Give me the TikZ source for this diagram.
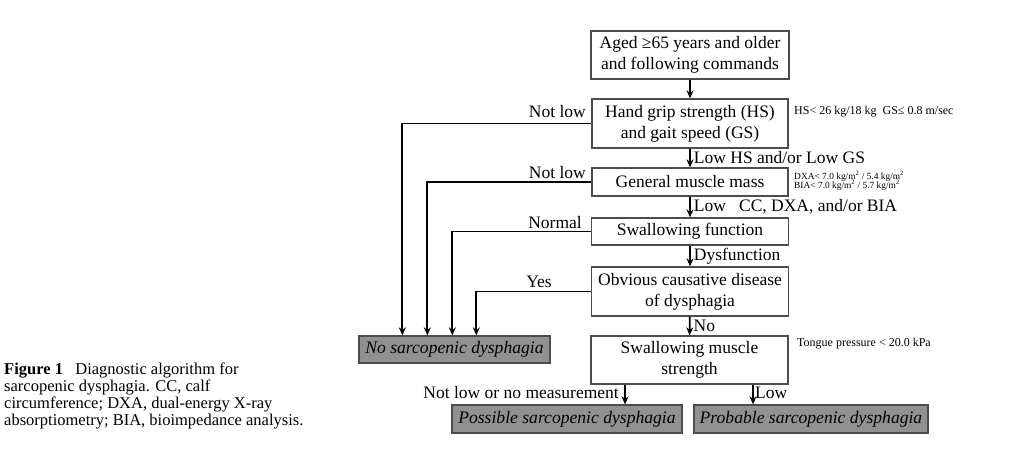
\documentclass[tikz,border=0pt]{standalone}
\usepackage{fontspec}
\setmainfont{Liberation Serif}
\usetikzlibrary{arrows.meta,calc}
\begin{document}
\begin{tikzpicture}[x=1pt,y=-1pt,
  box/.style={draw=black!70,line width=1.3pt,fill=white,align=center,inner sep=0pt,
    font=\fontsize{17.5}{21}\selectfont},
  outbox/.style={draw=black!70,line width=1.3pt,fill=black!43,inner sep=0pt,
    font=\fontsize{17.6}{20}\selectfont\itshape},
  arr/.style={line width=1.8pt,-{Stealth[length=8pt,width=7pt]}},
  lbl/.style={inner sep=0pt,font=\fontsize{17.5}{20}\selectfont},
  note/.style={inner sep=0pt,font=\fontsize{12}{13}\selectfont,anchor=west},
  tiny/.style={inner sep=0pt,font=\fontsize{9.4}{10}\selectfont,anchor=west}]
\useasboundingbox (0,0) rectangle (1024,455);
\fill[white] (0,0) rectangle (1024,455);

% boxes
\node[box,minimum width=198pt,minimum height=48pt] (top) at (690,55) {Aged ≥65 years and older\\and following commands};
\node[box,minimum width=196pt,minimum height=49pt] (hs) at (690,123.5) {Hand grip strength (HS)\\and gait speed (GS)};
\node[box,minimum width=196pt,minimum height=28pt] (gmm) at (690,182) {General muscle mass};
\node[box,minimum width=197pt,minimum height=27pt] (sf) at (690,231.5) {Swallowing function};
\node[box,minimum width=197pt,minimum height=49pt] (ob) at (690,291.5) {Obvious causative disease\\of dysphagia};
\node[box,minimum width=197pt,minimum height=48pt] (sms) at (689.5,360) {Swallowing muscle\\strength};
\node[outbox,minimum width=191pt,minimum height=27pt] (nosd) at (454.5,349.5) {No sarcopenic dysphagia};
\node[outbox,minimum width=230pt,minimum height=28pt] (pos) at (567,419) {Possible sarcopenic dysphagia};
\node[outbox,minimum width=234pt,minimum height=28pt] (prob) at (811,419) {Probable sarcopenic dysphagia};

% main vertical flow
\draw[arr] (top) -- (hs);
\draw[arr] (hs) -- node[lbl,anchor=west,xshift=3pt]{Low HS and/or Low GS} (gmm);
\draw[arr] (gmm) -- node[lbl,anchor=west,xshift=3pt]{Low\ \ \ CC, DXA, and/or BIA} (sf);
\draw[arr] (sf) -- node[lbl,anchor=west,xshift=3pt]{Dysfunction} (ob);
\draw[arr] (ob) -- node[lbl,anchor=west,xshift=3pt]{No} (sms);

% left branches
\draw[arr] (hs.west) -| ([xshift=44pt]nosd.north west);
\draw[arr] (gmm.west) -| ([xshift=69pt]nosd.north west);
\draw[arr] (sf.west) -| ([xshift=94pt]nosd.north west);
\draw[arr] (ob.west) -| ([xshift=118pt]nosd.north west);
\node[lbl,anchor=east] (l1) at (586,112) {Not low};
\node[lbl,anchor=east] (l2) at (586,173) {Not low};
\node[lbl,anchor=east] (l3) at (582,223) {Normal};
\node[lbl] (l4) at (539,282) {Yes};

% bottom branches
\draw[arr] ([xshift=58pt]pos.north |- sms.south) -- ([xshift=58pt]pos.north);
\draw[arr] ([xshift=-58pt]prob.north |- sms.south) -- ([xshift=-58pt]prob.north);
\node[lbl,anchor=east] (l5) at (619,393) {Not low or no measurement};
\node[lbl,anchor=west] (l6) at (755,393) {Low};

% side notes
\node[note] (n1) at (794,112) {HS< 26 kg/18 kg\ \ GS≤ 0.8 m/sec};
\node[tiny] (n2) at (794,176) {DXA< 7.0 kg/m\textsuperscript{2} / 5.4 kg/m\textsuperscript{2}};
\node[tiny] (n3) at (794,185) {BIA< 7.0 kg/m\textsuperscript{2} / 5.7 kg/m\textsuperscript{2}};
\node[note] (n4) at (797,344) {Tongue pressure < 20.0 kPa};

% caption
\node[anchor=north west,inner sep=0pt,align=left,font=\fontsize{16.5}{17}\selectfont] (cap) at (4,363)
 {\textbf{Figure 1}\ \ \ Diagnostic algorithm for\\sarcopenic dysphagia. CC, calf\\circumference; DXA, dual-energy X-ray\\absorptiometry; BIA, bioimpedance analysis.};
\end{tikzpicture}
\end{document}
